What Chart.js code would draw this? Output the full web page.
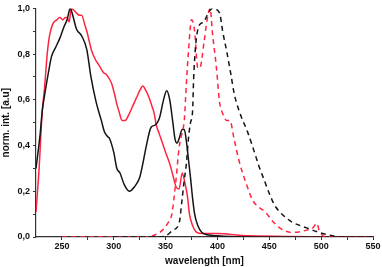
<!DOCTYPE html>
<html>
<head>
<meta charset="utf-8">
<script src="https://cdn.jsdelivr.net/npm/chart.js@4/dist/chart.umd.min.js"></script>
<style>
  html, body { margin: 0; padding: 0; background: #fff; }
  #wrap { width: 382px; height: 267px; }
</style>
</head>
<body>
<div id="wrap"><canvas id="grafico"></canvas></div>
<script>
// absorption (solid) and emission (dashed) spectra, normalised
const absPretoNm = [225, 229, 231, 234, 237, 240, 244, 248, 252, 255, 258, 261, 264, 269, 274, 278, 283, 288, 291, 294, 296, 300, 303, 306, 310, 315, 320, 325, 328, 331, 336, 340, 344, 348, 351, 354, 357, 359, 361, 363, 366, 368, 370, 372, 374, 376, 378, 381, 385, 390, 400, 420, 550];
const absPreto   = [0.30, 0.45, 0.55, 0.64, 0.72, 0.79, 0.83, 0.87, 0.92, 0.95, 1.00, 0.96, 0.91, 0.88, 0.82, 0.70, 0.59, 0.51, 0.46, 0.44, 0.43, 0.37, 0.30, 0.28, 0.23, 0.20, 0.22, 0.26, 0.32, 0.39, 0.48, 0.49, 0.52, 0.60, 0.64, 0.60, 0.50, 0.43, 0.41, 0.43, 0.47, 0.47, 0.42, 0.34, 0.26, 0.17, 0.10, 0.05, 0.02, 0.01, 0.005, 0, 0];

const absVermNm = [225, 228, 231, 233, 236, 238, 241, 245, 248, 251, 253, 255, 257, 259, 262, 264, 267, 269, 272, 274, 279, 283, 286, 290, 293, 296, 298, 301, 303, 305, 308, 311, 315, 319, 322, 325, 328, 331, 334, 337, 339, 341, 344, 347, 350, 354, 357, 360, 363, 366, 368, 371, 373, 376, 380, 385, 400, 430, 550];
const absVerm   = [0.11, 0.30, 0.55, 0.64, 0.81, 0.88, 0.93, 0.95, 0.96, 0.95, 0.96, 0.96, 0.94, 1.00, 0.99, 0.98, 0.97, 0.97, 0.93, 0.90, 0.81, 0.77, 0.75, 0.72, 0.71, 0.69, 0.67, 0.62, 0.58, 0.55, 0.51, 0.51, 0.54, 0.58, 0.61, 0.64, 0.66, 0.64, 0.61, 0.57, 0.54, 0.49, 0.45, 0.41, 0.37, 0.32, 0.27, 0.22, 0.21, 0.28, 0.25, 0.18, 0.10, 0.05, 0.02, 0.015, 0.015, 0.005, 0];

const emPretoNm = [300, 345, 352, 357, 363, 366, 368, 370, 372, 374, 376, 377, 379, 383, 387, 390, 395, 402, 405, 409, 413, 416, 421, 429, 435, 440, 445, 450, 455, 460, 466, 472, 486, 498, 511, 525, 550];
const emPreto   = [0, 0, 0.01, 0.03, 0.06, 0.17, 0.25, 0.32, 0.43, 0.50, 0.55, 0.69, 0.84, 0.93, 0.94, 0.97, 1.00, 0.98, 0.90, 0.81, 0.71, 0.63, 0.55, 0.46, 0.38, 0.31, 0.25, 0.19, 0.14, 0.11, 0.085, 0.065, 0.04, 0.02, 0.005, 0, 0];

const emVermNm = [250, 330, 340, 347, 352, 356, 360, 363, 366, 368, 370, 372, 375, 378, 381, 383, 387, 390, 393, 395, 399, 402, 405, 409, 412, 416, 421, 428, 434, 440, 446, 453, 460, 472, 486, 492, 496, 498, 505, 550];
const emVerm   = [0, 0, 0.01, 0.03, 0.06, 0.10, 0.25, 0.39, 0.46, 0.51, 0.67, 0.81, 0.95, 0.90, 0.74, 0.74, 0.85, 0.95, 1.00, 0.90, 0.74, 0.59, 0.54, 0.51, 0.51, 0.43, 0.33, 0.23, 0.16, 0.13, 0.11, 0.07, 0.04, 0.02, 0.03, 0.04, 0.06, 0.03, 0, 0];

const xTicks = [250, 275, 300, 325, 350, 375, 400, 425, 450, 475, 500, 525, 550];
const yTicks = [0, 0.1, 0.2, 0.3, 0.4, 0.5, 0.6, 0.7, 0.8, 0.9, 1.0];

const preto = '#141414';
const verm = '#ff2440';

function pontos(nm, val) {
  return nm.map((x, i) => ({ x: x, y: val[i] }));
}

function serie(nm, val, cor, tracejado) {
  return {
    data: pontos(nm, val),
    borderColor: cor,
    borderWidth: 1.5,
    borderDash: tracejado ? [5, 4] : [],
    pointRadius: 0,
    cubicInterpolationMode: 'monotone',
    fill: false
  };
}

const fonteTick = { family: 'Liberation Sans', size: 9, weight: 'bold' };
const fonteTitulo = { family: 'Liberation Sans', size: 10, weight: 'bold' };

new Chart(document.getElementById('grafico'), {
  type: 'line',
  data: {
    datasets: [
      serie(emPretoNm, emPreto, preto, true),
      serie(emVermNm, emVerm, verm, true),
      serie(absPretoNm, absPreto, preto, false),
      serie(absVermNm, absVerm, verm, false)
    ]
  },
  options: {
    responsive: true,
    maintainAspectRatio: false,
    animation: false,
    layout: { padding: { top: 1, right: 9, left: 0, bottom: 0 } },
    plugins: { legend: { display: false }, tooltip: { enabled: false } },
    scales: {
      x: {
        type: 'linear',
        min: 225,
        max: 550,
        afterBuildTicks: axis => { axis.ticks = xTicks.map(v => ({ value: v })); },
        afterFit: axis => { axis.height = 30; },
        ticks: {
          color: '#111',
          font: fonteTick,
          padding: 1,
          maxRotation: 0,
          autoSkip: false,
          callback: v => (v % 50 === 0 ? String(v) : '')
        },
        grid: { drawOnChartArea: false, drawTicks: true, tickLength: 3, color: '#333' },
        border: { color: '#333', width: 1.2 },
        title: { display: true, text: 'wavelength [nm]', color: '#111', font: fonteTitulo, padding: { top: 0, bottom: 0 } }
      },
      y: {
        min: 0,
        max: 1,
        afterBuildTicks: axis => { axis.ticks = yTicks.map(v => ({ value: v })); },
        afterFit: axis => { axis.width = 36; },
        ticks: {
          color: '#111',
          font: fonteTick,
          padding: 3,
          autoSkip: false,
          callback: v => (Math.round(v * 10) % 2 === 0 ? v.toFixed(1).replace('.', ',') : '')
        },
        grid: { drawOnChartArea: false, drawTicks: true, tickLength: 3, color: '#333' },
        border: { color: '#333', width: 1.2 },
        title: { display: true, text: 'norm. int. [a.u]', color: '#111', font: fonteTitulo, padding: { top: 0, bottom: 0 } }
      }
    }
  }
});
</script>
</body>
</html>
